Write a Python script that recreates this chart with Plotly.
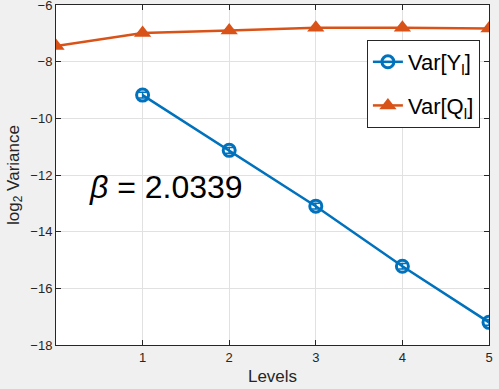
import plotly.graph_objects as go

levels_q = [0, 1, 2, 3, 4, 5]
var_q = [-7.45, -6.99, -6.9, -6.8, -6.8, -6.83]
err_q = [0.05, 0.05, 0.05, 0.05, 0.05, 0.05]

levels_y = [1, 2, 3, 4, 5]
var_y = [-9.18, -11.13, -13.1, -15.22, -17.2]
err_y = [0.1, 0.1, 0.1, 0.1, 0.1]

beta_text = "<i>β</i> = 2.0339"
x_ticks = [1, 2, 3, 4, 5]
y_ticks = [-18, -16, -14, -12, -10, -8, -6]

BLUE = "#0072BD"
ORANGE = "#D95319"
FONT = "Liberation Sans, Arial, sans-serif"

fig = go.Figure()
fig.add_trace(go.Scatter(
    x=levels_y, y=var_y, name="Var[Y<sub>l</sub>]",
    mode="lines+markers", legendgroup="y",
    line=dict(color=BLUE, width=2.5),
    marker=dict(symbol="circle-open", size=12, color=BLUE, line=dict(width=3, color=BLUE)),
    error_y=dict(type="data", array=err_y, color=BLUE, thickness=1.5, width=4),
))
fig.add_trace(go.Scatter(
    x=levels_q, y=var_q, name="Var[Q<sub>l</sub>]",
    mode="lines+markers", legendgroup="q",
    line=dict(color=ORANGE, width=2.5),
    marker=dict(symbol="triangle-up", size=15, color=ORANGE),
    error_y=dict(type="data", array=err_q, color=ORANGE, thickness=1.5, width=4),
))

fig.add_annotation(
    x=1.27, y=-12.42, text=beta_text, showarrow=False,
    font=dict(family=FONT, size=32, color="black"),
)

axis_common = dict(
    showline=True, linecolor="#262626", linewidth=1, mirror="ticks",
    ticks="inside", ticklen=5, tickcolor="#262626",
    showgrid=True, gridcolor="#e1e1e1", gridwidth=1,
    zeroline=False, automargin=False, ticklabeloverflow="allow",
    tickfont=dict(family=FONT, size=13, color="#262626"),
)

fig.update_xaxes(
    range=[0, 5], tickvals=x_ticks,
    title=dict(text="Levels", font=dict(family=FONT, size=17, color="#262626"), standoff=6),
    **axis_common,
)
fig.update_yaxes(
    range=[-18, -6], tickvals=y_ticks,
    title=dict(text="log<sub>2</sub> Variance", font=dict(family=FONT, size=17, color="#262626"), standoff=6),
    **axis_common,
)

fig.update_layout(
    width=499, height=389,
    margin=dict(l=56, r=10, t=5, b=44),
    paper_bgcolor="#f0f0f0", plot_bgcolor="white",
    font=dict(family=FONT),
    legend=dict(
        x=0.979, y=0.897, xanchor="right", yanchor="top",
        bgcolor="white", bordercolor="#262626", borderwidth=1,
        font=dict(family=FONT, size=22, color="black"),
        tracegroupgap=12,
    ),
)

# drop the browser's default 8px body margin so the figure sits at 0,0
fig.write_html(
    "out.html",
    config={"displayModeBar": False},
    post_script="document.body.style.margin='0';",
)
